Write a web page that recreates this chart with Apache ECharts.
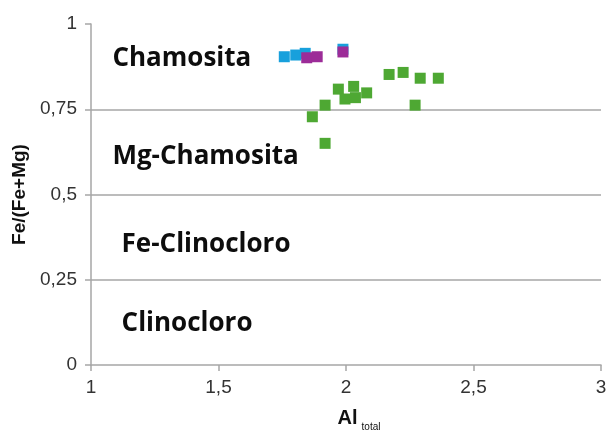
<!DOCTYPE html>
<html>
<head>
<meta charset="utf-8">
<script src="https://cdn.jsdelivr.net/npm/echarts@6/dist/echarts.min.js"></script>
<style>html,body{margin:0;padding:0;background:#fff}#c{width:608px;height:430px}</style>
</head>
<body>
<div id="c"></div>
<script>
// x = Al total, y = Fe/(Fe+Mg)
const blueX = [1.758, 1.803, 1.840, 1.988];
const blueY = [0.904, 0.909, 0.914, 0.926];
const magentaX = [1.846, 1.887, 1.988];
const magentaY = [0.901, 0.904, 0.918];
const greenX = [1.868, 1.918, 1.918, 1.970, 2.030, 1.996, 2.037, 2.081, 2.169, 2.224, 2.291, 2.362, 2.271];
const greenY = [0.728, 0.762, 0.650, 0.809, 0.817, 0.780, 0.784, 0.798, 0.852, 0.858, 0.841, 0.841, 0.762];
const boundaries = [0.25, 0.5, 0.75];
const regionNames = ['Chamosita', 'Mg-Chamosita', 'Fe-Clinocloro', 'Clinocloro'];
const regionAnchorX = [1.082, 1.082, 1.118, 1.118];
const regionAnchorY = [0.898, 0.612, 0.352, 0.121];
const xTicks = [1, 1.5, 2, 2.5, 3];
const yTicks = [0, 0.25, 0.5, 0.75, 1];

const zip = (xs, ys) => xs.map((x, i) => [x, ys[i]]);
const fmt = v => String(v).replace('.', ',');
const gray = '#a6a6a6';

const chart = echarts.init(document.getElementById('c'), null, {renderer: 'canvas'});
chart.setOption({
  animation: false,
  grid: {left: 91, right: 7, top: 24, bottom: 65, containLabel: false, outerBoundsMode: 'none'},
  xAxis: {
    type: 'value', min: xTicks[0], max: xTicks[xTicks.length - 1], interval: 0.5,
    axisLine: {lineStyle: {color: gray, width: 1.5}},
    axisTick: {show: true, length: 6, lineStyle: {color: gray, width: 1.5}},
    splitLine: {show: false},
    axisLabel: {formatter: fmt, color: '#333', fontSize: 19, fontFamily: 'Liberation Sans', margin: 13},
    name: '{a|Al}{b|total}',
    nameLocation: 'middle',
    nameGap: 39,
    nameTextStyle: {
      padding: [0, 0, 0, 26],
      rich: {
        a: {fontSize: 20, fontWeight: 'bold', color: '#111', fontFamily: 'Liberation Sans'},
        b: {fontSize: 10, color: '#111', fontFamily: 'Liberation Sans', padding: [18, 0, 0, 4]}
      }
    }
  },
  yAxis: {
    type: 'value', min: yTicks[0], max: yTicks[yTicks.length - 1], interval: 0.25,
    axisLine: {show: true, lineStyle: {color: gray, width: 1.5}},
    axisTick: {show: true, length: 6, lineStyle: {color: gray, width: 1.5}},
    splitLine: {show: false},
    axisLabel: {formatter: fmt, color: '#333', fontSize: 19, fontFamily: 'Liberation Sans', margin: 14},
    name: 'Fe/(Fe+Mg)',
    nameLocation: 'middle',
    nameGap: 58,
    nameTextStyle: {fontSize: 19, fontWeight: 'bold', color: '#111', fontFamily: 'Liberation Sans'}
  },
  series: [
    {
      type: 'scatter', symbol: 'circle', symbolSize: 1, silent: true,
      itemStyle: {color: 'transparent', opacity: 1},
      data: regionNames.map((n, i) => ({name: n, value: [regionAnchorX[i], regionAnchorY[i]]})),
      label: {
        show: true, position: 'right', distance: 0, formatter: p => p.name,
        fontSize: 26, fontWeight: 'bold', color: '#0d0d0d', fontFamily: 'Open Sans', opacity: 1
      },
      markLine: {
        silent: true, symbol: 'none', label: {show: false},
        lineStyle: {color: gray, width: 1.5, type: 'solid'},
        data: boundaries.map(b => ({yAxis: b}))
      },
      z: 1
    },
    {type: 'scatter', symbol: 'rect', symbolSize: 11, data: zip(blueX, blueY),
     itemStyle: {color: '#18a0dc', opacity: 1}, z: 3},
    {type: 'scatter', symbol: 'rect', symbolSize: 11, data: zip(magentaX, magentaY),
     itemStyle: {color: '#9c2c98', opacity: 1}, z: 4},
    {type: 'scatter', symbol: 'rect', symbolSize: 11, data: zip(greenX, greenY),
     itemStyle: {color: '#4ea833', opacity: 1}, z: 5}
  ]
});
</script>
</body>
</html>
